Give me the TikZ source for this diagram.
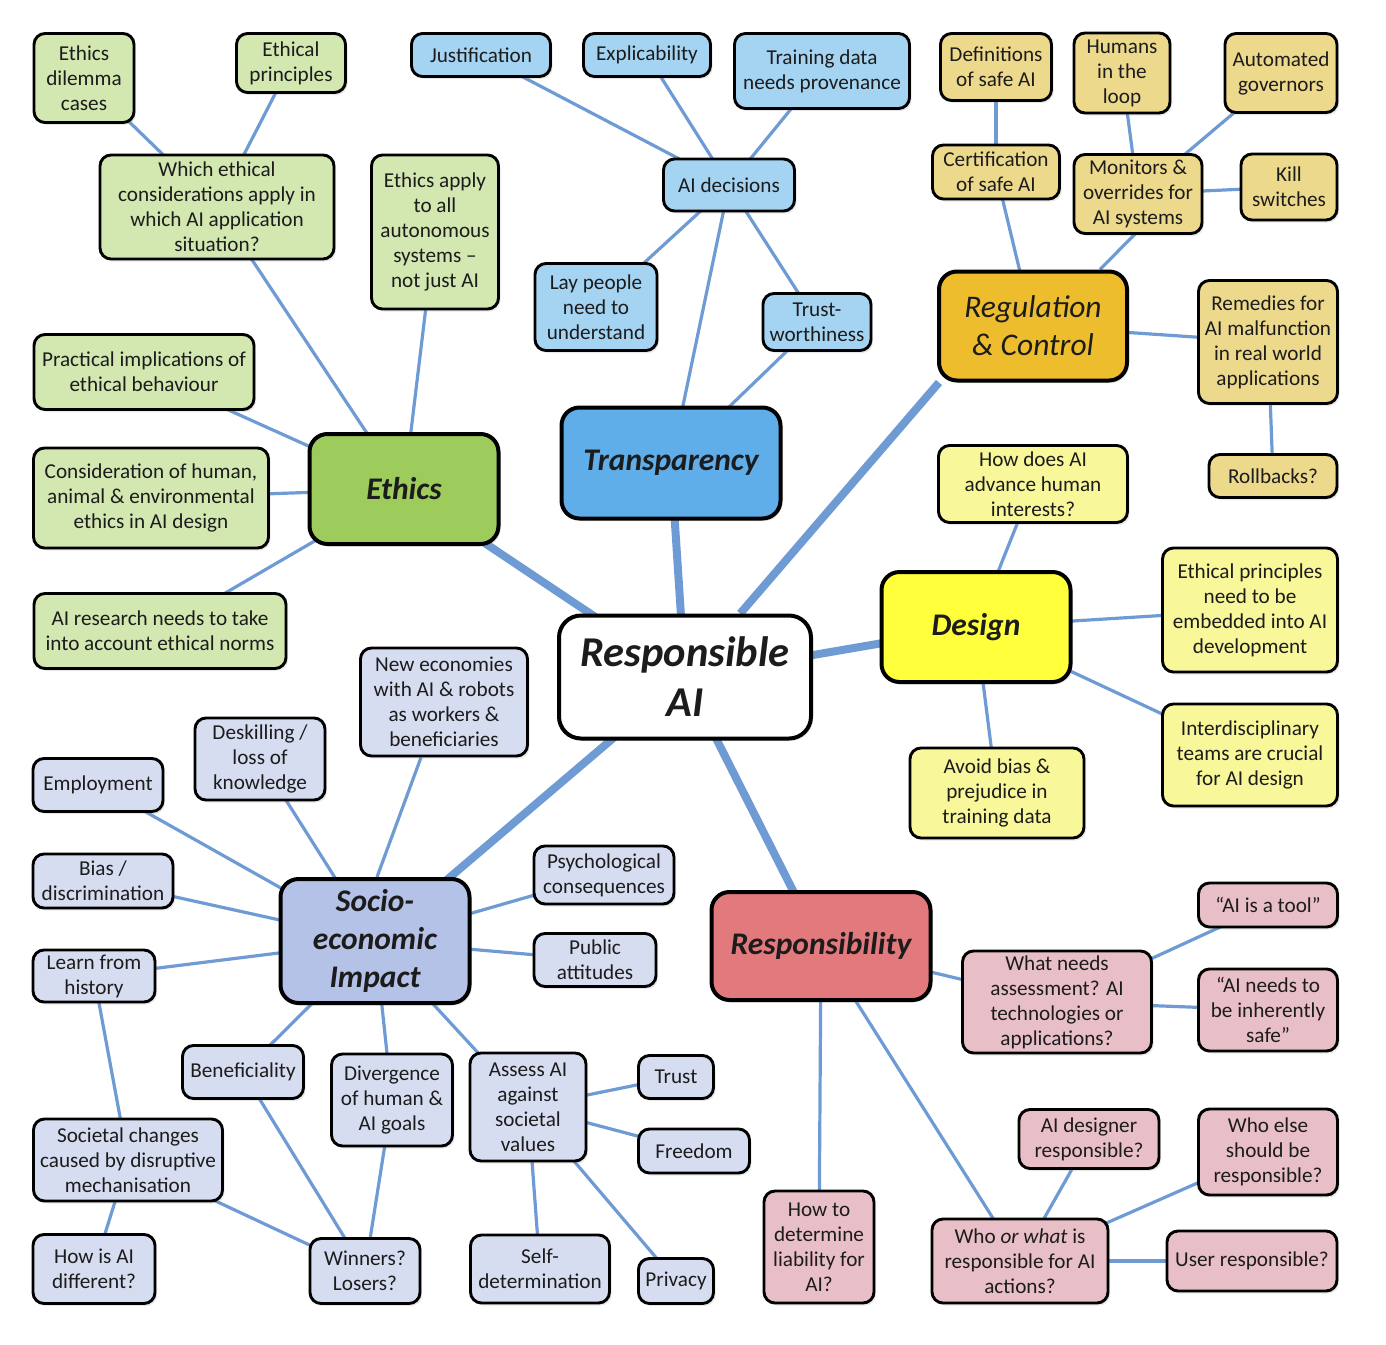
\documentclass[tikz,border=0pt]{standalone}
\usepackage{fontspec}
\setmainfont{Carlito}
\usetikzlibrary{backgrounds,calc,shadows}
\definecolor{conn}{HTML}{6F9BD5}
\definecolor{txt}{HTML}{1C1C1C}
\definecolor{gL}{HTML}{D3E7B1}
\definecolor{gM}{HTML}{9DCC5C}
\definecolor{bL}{HTML}{A5D4F3}
\definecolor{bM}{HTML}{5FAEEA}
\definecolor{oL}{HTML}{EDD98C}
\definecolor{oM}{HTML}{EEBD2E}
\definecolor{yL}{HTML}{F8F799}
\definecolor{yM}{HTML}{FFFF3C}
\definecolor{lL}{HTML}{D7DDF1}
\definecolor{lM}{HTML}{B3C2E6}
\definecolor{pL}{HTML}{E9BFC7}
\definecolor{pM}{HTML}{E27A7D}
\tikzset{
  box/.style={draw=black, line width=2.9pt, rounded corners=11pt, align=center,
    inner sep=3pt, text=txt, font=\fontsize{21.2}{25}\selectfont,
    drop shadow={shadow xshift=2pt, shadow yshift=-2.5pt, opacity=0.18}},
  mainbox/.style={box, line width=4pt, rounded corners=18pt,
    font=\fontsize{31.5}{38}\selectfont\bfseries\itshape},
  sz/.style 2 args={minimum width=#1pt, minimum height=#2pt},
  g/.style={box, fill=gL}, gm/.style={mainbox, fill=gM},
  b/.style={box, fill=bL}, bm/.style={mainbox, fill=bM},
  o/.style={box, fill=oL}, om/.style={mainbox, fill=oM},
  yy/.style={box, fill=yL}, ym/.style={mainbox, fill=yM},
  l/.style={box, fill=lL}, lm/.style={mainbox, fill=lM},
  p/.style={box, fill=pL}, pm/.style={mainbox, fill=pM},
  thinln/.style={draw=conn, line width=3.2pt},
  thickln/.style={draw=conn, line width=8pt},
}
\begin{document}
\begin{tikzpicture}[x=1pt,y=-1pt]
\useasboundingbox (0,0) rectangle (1386,1344);
% central
\node[mainbox, fill=white, sz={252}{123}, rounded corners=22pt,
  font=\fontsize{42.5}{50}\selectfont\bfseries\itshape] (rai) at (685,677) {Responsible\\AI};
% Ethics
\node[gm,sz={189}{110}] (ethics) at (404,489) {Ethics};
\node[g,sz={100}{89}] (dilemma) at (84,78) {Ethics\\dilemma\\cases};
\node[g,sz={109}{59}] (princ) at (291,63) {Ethical\\principles};
\node[g,sz={234}{104}] (which) at (217,207) {Which ethical\\considerations apply in\\which AI application\\situation?};
\node[g,sz={127}{154}] (apply) at (435,232) {Ethics apply\\to all\\autonomous\\systems –\\not just AI};
\node[g,sz={220}{75}] (pract) at (144,372) {Practical implications of\\ethical behaviour};
\node[g,sz={235}{100}] (consid) at (151,498) {Consideration of human,\\animal \& environmental\\ethics in AI design};
\node[g,sz={252}{75}] (research) at (160,631) {AI research needs to take\\into account ethical norms};
% Transparency
\node[bm,sz={219}{111}] (transp) at (671,463) {Transparency};
\node[b,sz={139}{43}] (justif) at (481,55) {Justification};
\node[b,sz={127}{43}] (explic) at (647,55) {Explicability};
\node[b,sz={175}{75}] (training) at (822,71) {Training data\\needs provenance};
\node[b,sz={131}{52}] (aidec) at (729,185) {AI decisions};
\node[b,sz={122}{87}] (lay) at (596,307) {Lay people\\need to\\understand};
\node[b,sz={108}{57}] (trust) at (817,322) {Trust-\\worthiness};
% Regulation
\node[om,sz={188}{109}, font=\fontsize{31.5}{38}\selectfont\itshape] (reg) at (1033,326) {Regulation\\\& Control};
\node[o,sz={111}{67}] (defs) at (996,67) {Definitions\\of safe AI};
\node[o,sz={96}{80}] (humans) at (1122,73) {Humans\\in the\\loop};
\node[o,sz={112}{79}] (autogov) at (1281,73) {Automated\\governors};
\node[o,sz={127}{54}] (cert) at (996,172) {Certification\\of safe AI};
\node[o,sz={128}{79}] (monitors) at (1138,194) {Monitors \&\\overrides for\\AI systems};
\node[o,sz={96}{66}] (kill) at (1289,187) {Kill\\switches};
\node[o,sz={139}{123}] (remedies) at (1268,342) {Remedies for\\AI malfunction\\in real world\\applications};
\node[o,sz={128}{43}] (rollbacks) at (1273,476) {Rollbacks?};
% Design
\node[ym,sz={189}{110}] (design) at (976,627) {Design};
\node[yy,sz={189}{77}] (howdoes) at (1033,484) {How does AI\\advance human\\interests?};
\node[yy,sz={175}{124}] (emb) at (1250,610) {Ethical principles\\need to be\\embedded into AI\\development};
\node[yy,sz={175}{102}] (interdisc) at (1250,755) {Interdisciplinary\\teams are crucial\\for AI design};
\node[yy,sz={174}{90}] (avoid) at (997,793) {Avoid bias \&\\prejudice in\\training data};
% Socio-economic
\node[lm,sz={189}{124}] (socio) at (375,941) {Socio-\\economic\\Impact};
\node[l,sz={167}{108}] (neweco) at (444,702) {New economies\\with AI \& robots\\as workers \&\\beneficiaries};
\node[l,sz={130}{82}] (deskill) at (260,759) {Deskilling /\\loss of\\knowledge};
\node[l,sz={130}{53}] (employment) at (98,785) {Employment};
\node[l,sz={140}{54}] (bias) at (103,881) {Bias /\\discrimination};
\node[l,sz={122}{52}] (learn) at (94,976) {Learn from\\history};
\node[l,sz={140}{58}] (psych) at (604,875) {Psychological\\consequences};
\node[l,sz={122}{53}] (public) at (595,960) {Public\\attitudes};
\node[l,sz={121}{53}] (benef) at (243,1072) {Beneficiality};
\node[l,sz={121}{92}] (diverg) at (392,1100) {Divergence\\of human \&\\AI goals};
\node[l,sz={116}{108}] (assess) at (528,1107) {Assess AI\\against\\societal\\values};
\node[l,sz={75}{43}] (trustb) at (676,1077) {Trust};
\node[l,sz={111}{44}] (freedom) at (694,1151) {Freedom};
\node[l,sz={189}{82}] (societal) at (128,1160) {Societal changes\\caused by disruptive\\mechanisation};
\node[l,sz={122}{69}] (howisai) at (94,1269) {How is AI\\different?};
\node[l,sz={110}{65}] (winners) at (365,1271) {Winners?\\Losers?};
\node[l,sz={139}{68}] (selfdet) at (540,1269) {Self-\\determination};
\node[l,sz={75}{45}] (privacy) at (676,1281) {Privacy};
% Responsibility
\node[pm,sz={219}{108}] (resp) at (821,946) {Responsibility};
\node[p,sz={189}{102}] (whatneeds) at (1057,1002) {What needs\\assessment? AI\\technologies or\\applications?};
\node[p,sz={139}{44}] (tool) at (1268,905) {“AI is a tool”};
\node[p,sz={139}{82}] (inherently) at (1268,1010) {“AI needs to\\be inherently\\safe”};
\node[p,sz={140}{59}] (designer) at (1089,1139) {AI designer\\responsible?};
\node[p,sz={139}{86}] (whoelse) at (1268,1152) {Who else\\should be\\responsible?};
\node[p,sz={110}{112}] (liability) at (819,1247) {How to\\determine\\liability for\\AI?};
\node[p,sz={176}{84}] (whowhat) at (1020,1261) {Who \textit{or what} is\\responsible for AI\\actions?};
\node[p,sz={170}{60}] (userresp) at (1252,1261) {User responsible?};
% connectors
\begin{scope}[on background layer]
\draw[thickln] (ethics.center) -- (rai.center);
\draw[thickln] (transp.center) -- (rai.center);
\draw[thickln] (reg.211) -- (rai.49);
\draw[thickln] (design.center) -- (rai.center);
\draw[thickln] (socio.center) -- (rai.center);
\draw[thickln] (resp.center) -- (rai.center);
% ethics
\draw[thinln] (dilemma.center) -- (which.center);
\draw[thinln] (princ.center) -- (which.center);
\draw[thinln] (which.center) -- (ethics.center);
\draw[thinln] (apply.center) -- (ethics.center);
\draw[thinln] (pract.center) -- (ethics.center);
\draw[thinln] (consid.center) -- (ethics.center);
\draw[thinln] (research.center) -- (ethics.center);
% transparency
\draw[thinln] (justif.center) -- (aidec.center);
\draw[thinln] (explic.center) -- (aidec.center);
\draw[thinln] (training.center) -- (aidec.center);
\draw[thinln] (aidec.center) -- (lay.center);
\draw[thinln] (aidec.center) -- (trust.center);
\draw[thinln] (aidec.center) -- (transp.center);
\draw[thinln] (trust.center) -- (transp.center);
% regulation
\draw[thinln] (defs.center) -- (cert.center);
\draw[thinln] (cert.center) -- (reg.center);
\draw[thinln] (humans.center) -- (monitors.center);
\draw[thinln] (autogov.center) -- (monitors.center);
\draw[thinln] (kill.center) -- (monitors.center);
\draw[thinln] ($(monitors.south)+(-2,-2)$) -- ($(reg.north)+(67,0)$);
\draw[thinln] (reg.center) -- (remedies.center);
\draw[thinln] (remedies.center) -- (rollbacks.center);
% design
\draw[thinln] (howdoes.center) -- (design.center);
\draw[thinln] (design.center) -- (emb.center);
\draw[thinln] (design.center) -- (interdisc.center);
\draw[thinln] (design.center) -- (avoid.center);
% socio
\draw[thinln] ($(neweco.south)+(-23,0)$) -- ($(socio.north)+(2,0)$);
\draw[thinln] (deskill.center) -- (socio.center);
\draw[thinln] (employment.center) -- (socio.center);
\draw[thinln] (bias.center) -- (socio.center);
\draw[thinln] (learn.center) -- (socio.center);
\draw[thinln] (learn.center) -- (societal.center);
\draw[thinln] (societal.center) -- (howisai.center);
\draw[thinln] (societal.center) -- (winners.center);
\draw[thinln] (socio.center) -- (psych.center);
\draw[thinln] (socio.center) -- (public.center);
\draw[thinln] (socio.center) -- (benef.center);
\draw[thinln] (socio.center) -- (diverg.center);
\draw[thinln] (socio.center) -- (assess.center);
\draw[thinln] (benef.center) -- (winners.center);
\draw[thinln] (diverg.center) -- (winners.center);
\draw[thinln] (assess.center) -- (trustb.center);
\draw[thinln] (assess.center) -- (freedom.center);
\draw[thinln] (assess.center) -- (selfdet.center);
\draw[thinln] (assess.center) -- (privacy.center);
% responsibility
\draw[thinln] (resp.center) -- (whatneeds.center);
\draw[thinln] (whatneeds.center) -- (tool.center);
\draw[thinln] (whatneeds.center) -- (inherently.center);
\draw[thinln] (resp.center) -- (liability.center);
\draw[thinln] (resp.center) -- (whowhat.center);
\draw[thinln] (designer.center) -- (whowhat.center);
\draw[thinln] (whoelse.center) -- (whowhat.center);
\draw[thinln] (whowhat.center) -- (userresp.center);
\end{scope}
\end{tikzpicture}
\end{document}
